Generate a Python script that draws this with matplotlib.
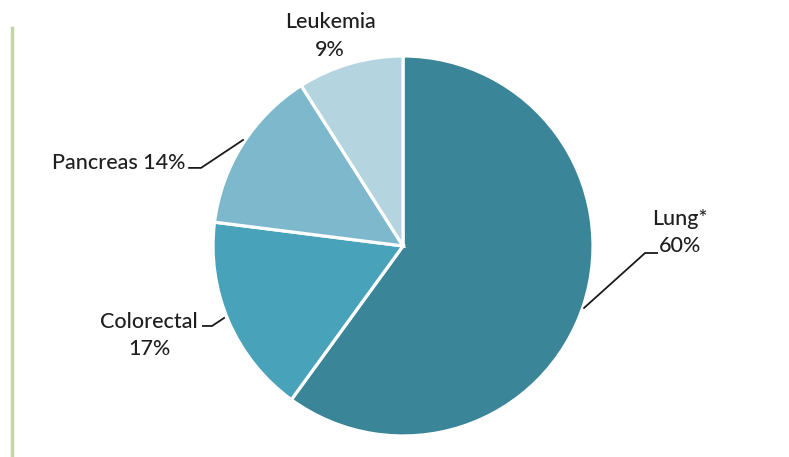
import numpy as np
import matplotlib.pyplot as plt
from matplotlib.lines import Line2D

labels = ["Lung*", "Colorectal", "Pancreas", "Leukemia"]
shares = [60, 17, 14, 9]
colors = ["#3a8597", "#47a2ba", "#7db8cd", "#b4d4df"]

plt.rcParams["font.family"] = ["Lato", "DejaVu Sans"]

fig = plt.figure(figsize=(7.89, 4.57), dpi=100)
ax = fig.add_axes([0.270, 0.046, 0.4816, 0.8315])

ax.pie(shares, colors=colors, startangle=90, counterclock=False,
       wedgeprops=dict(edgecolor="white", linewidth=2.3))
ax.set_xlim(-1, 1)
ax.set_ylim(-1, 1)
ax.set_aspect("equal")
ax.axis("off")

txt = dict(fontsize=15.5, color="#1f1f1f", fontweight="medium")
line = dict(color="#1a1a1a", lw=1.3, clip_on=False)

# Leukemia
ax.text(-0.384, 1.105, f"{labels[3]}\n{shares[3]}%", ha="center", va="center",
        linespacing=1.45, **txt)

# Pancreas
ax.plot([-1.126, -1.063, -0.842], [0.411, 0.411, 0.558], **line)
ax.text(-1.147, 0.437, f"{labels[2]} {shares[2]}%", ha="right", va="center", **txt)

# Lung
ax.plot([0.953, 1.274, 1.337], [-0.326, -0.037, -0.037], **line)
ax.text(1.458, 0.07, f"{labels[0]}\n{shares[0]}%", ha="center", va="center",
        linespacing=1.45, **txt)

# Colorectal
ax.plot([-1.053, -1.005, -0.942], [-0.421, -0.421, -0.379], **line)
ax.text(-1.337, -0.47, f"{labels[1]}\n{shares[1]}%", ha="center", va="center",
        linespacing=1.45, **txt)

fig.add_artist(Line2D([12 / 789, 12 / 789], [0, 1 - 28 / 457],
                      transform=fig.transFigure, color="#c3d5a6", lw=2.5))

fig.savefig("out.png", dpi=100)
